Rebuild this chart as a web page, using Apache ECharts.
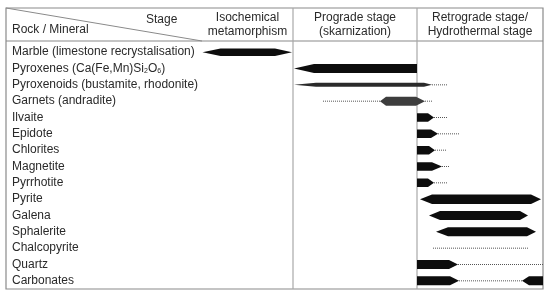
<!DOCTYPE html>
<html><head><meta charset="utf-8">
<script src="https://cdn.jsdelivr.net/npm/echarts@6/dist/echarts.min.js"></script>
<style>html,body{margin:0;padding:0;background:#fff}#c{width:550px;height:297px}</style>
</head><body><div id="c"></div>
<script>
// Minerals (rows, top to bottom)
var minerals = ['Marble (limestone recrystalisation)','Pyroxenes (Ca(Fe,Mn)Si{s|2}O{s|6})','Pyroxenoids (bustamite, rhodonite)','Garnets (andradite)','Ilvaite','Epidote','Chlorites','Magnetite','Pyrrhotite','Pyrite','Galena','Sphalerite','Chalcopyrite','Quartz','Carbonates'];
// Stage names and their boundaries on a relative time scale
var stageNames = ['Isochemical\nmetamorphism','Prograde stage\n(skarnization)','Retrograde stage/\nHydrothermal stage'];
var stageBounds = [0, 91, 215, 341];
// Solid crystallisation periods: [row, start, end, thickness, taperLeft, taperRight, shade]
var solidPeriods = [
  [0, 0.5, 90, 7.5, 18, 17, 0],
  [1, 92, 215, 9, 20, 0, 0],
  [2, 92, 230, 4, 22, 8, 1],
  [3, 178, 223, 9, 6, 9, 2],
  [4, 215, 232, 8.5, 0, 6, 0],
  [5, 215, 236, 8.5, 0, 7, 0],
  [6, 215, 233, 8.5, 0, 6, 0],
  [7, 215, 240, 8.5, 0, 10, 0],
  [8, 215, 232, 8.5, 0, 6, 0],
  [9, 218, 339, 9.5, 12, 10, 0],
  [10, 227, 326, 9, 11, 8, 0],
  [11, 234, 334, 9, 12, 9, 0],
  [13, 215, 256, 9, 0, 9, 0],
  [14, 215, 257, 9, 0, 9, 0],
  [14, 320, 341, 9, 7, 0, 0]
];
// Minor / uncertain periods (dotted): [row, start, end]
var dottedPeriods = [
  [2, 230, 246],
  [3, 121, 178],
  [3, 223, 230],
  [4, 232, 246],
  [5, 236, 258],
  [6, 233, 245],
  [7, 240, 247],
  [8, 232, 246],
  [12, 231, 326],
  [13, 256, 341],
  [14, 257, 320]
];
var shades = ['#0d0d0d','#2a2a2a','#3d3d3d'];
var FONT = '"Liberation Sans", Arial, sans-serif';
var TXT = '#2a2a2a';

var chart = echarts.init(document.getElementById('c'));
chart.setOption({
  animation:false,
  grid:{left:202, right:7, top:44, bottom:8},
  xAxis:{type:'value', min:stageBounds[0], max:stageBounds[3], show:false},
  yAxis:{type:'category', inverse:true, data:minerals,
    axisLine:{show:false}, axisTick:{show:false}, splitLine:{show:false},
    axisLabel:{align:'left', margin:190, fontSize:12, color:TXT, fontFamily:FONT,
      rich:{s:{fontSize:7, color:TXT, fontFamily:FONT, verticalAlign:'bottom', padding:[6,0,0,0]}}}
  },
  graphic:[
    {type:'rect', shape:{x:6,y:8,width:537,height:281}, style:{fill:null, stroke:'#8a8a8a', lineWidth:1.2}, z:1},
    {type:'line', shape:{x1:6,y1:41,x2:543,y2:41}, style:{stroke:'#8a8a8a', lineWidth:1.2}},
    {type:'line', shape:{x1:6,y1:8,x2:202,y2:41}, style:{stroke:'#8a8a8a', lineWidth:1}},
    {type:'text', left:12, top:24, style:{text:'Rock / Mineral', font:'12px '+FONT, fill:TXT}},
    {type:'text', left:146, top:14, style:{text:'Stage', font:'12px '+FONT, fill:TXT}}
  ],
  series:[
    {type:'custom', data:stageBounds.map(function(b,i){return [b,i];}), silent:true,
      renderItem:function(params, api){
        var i = api.value(1);
        var x = api.coord([api.value(0),0])[0];
        var children = [];
        if (i>0 && i<3) children.push({type:'line', shape:{x1:x,y1:8,x2:x,y2:289}, style:{stroke:'#a8a8a8', lineWidth:1.2}});
        if (i<3) {
          var x2 = api.coord([stageBounds[i+1],0])[0];
          children.push({type:'text', style:{text:stageNames[i], x:(x+x2)/2, y:25, align:'center', verticalAlign:'middle', font:'12px '+FONT, fill:TXT, lineHeight:14}});
        }
        return {type:'group', children:children};
      }},
    {type:'custom', data:dottedPeriods, silent:true,
      renderItem:function(params, api){
        var p1 = api.coord([api.value(1), api.value(0)]);
        var p2 = api.coord([api.value(2), api.value(0)]);
        return {type:'line', shape:{x1:p1[0],y1:p1[1],x2:p2[0],y2:p2[1]}, style:{stroke:'#555', lineWidth:1, lineDash:[1,1]}};
      }},
    {type:'custom', data:solidPeriods, silent:true, z:3,
      renderItem:function(params, api){
        var row = api.value(0);
        var a = api.coord([api.value(1), row]);
        var b = api.coord([api.value(2), row]);
        var h = api.value(3)/2;
        var ppu = api.size([1,0])[0];
        var tl = api.value(4)*ppu, tr = api.value(5)*ppu;
        var y = a[1];
        var pts;
        if (tl>0) pts = [[a[0], y],[a[0]+tl, y-h]]; else pts = [[a[0], y+h],[a[0], y-h]];
        if (tr>0) { pts.push([b[0]-tr, y-h]); pts.push([b[0], y]); pts.push([b[0]-tr, y+h]); }
        else { pts.push([b[0], y-h]); pts.push([b[0], y+h]); }
        if (tl>0) pts.push([a[0]+tl, y+h]);
        return {type:'polygon', shape:{points:pts}, style:{fill:shades[api.value(6)], stroke:null}};
      }}
  ]
});
</script></body></html>
